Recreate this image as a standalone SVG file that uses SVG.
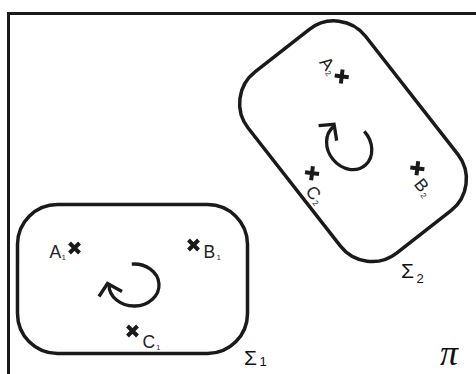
<svg xmlns="http://www.w3.org/2000/svg" width="476" height="374" viewBox="0 0 476 374">
  <defs>
    <style>
      .frame { fill: none; stroke: #1a1a1a; stroke-width: 3; }
      .region { fill: none; stroke: #1a1a1a; stroke-width: 3.5; }
      .cross { fill: none; stroke: #1a1a1a; stroke-width: 4; }
      .rot { fill: none; stroke: #1a1a1a; stroke-width: 3.3; stroke-linejoin: miter; }
      .lbl { font-family: "Liberation Sans", Arial, sans-serif; font-size: 17.5px; fill: #222; }
      .sub { font-family: "Liberation Sans", Arial, sans-serif; font-size: 8px; fill: #333; }
      .sig { font-family: "Liberation Sans", Arial, sans-serif; font-size: 21px; fill: #111; }
      .sigsub { font-family: "Liberation Sans", Arial, sans-serif; font-size: 13px; fill: #111; }
      .pi { font-family: "Liberation Serif", "Times New Roman", serif; font-style: italic; font-size: 36px; fill: #111; }
    </style>
  </defs>

  <g id="plane">
    <path class="frame" d="M8.5,374 V13.5 H476"/>
    <text class="pi" x="440" y="365">π</text>
  </g>

  <g id="sigma1">
    <rect class="region" x="17.5" y="204.5" width="230" height="149" rx="40" ry="40"/>
    <path class="cross" d="M69.5,243 L79.5,253 M69.5,253 L79.5,243"/>
    <text class="lbl" x="49.5" y="257.5">A</text><text class="sub" x="61.5" y="259.5">1</text>
    <path class="cross" d="M188.5,240 L198.5,250 M188.5,250 L198.5,240"/>
    <text class="lbl" x="203.5" y="258">B</text><text class="sub" x="216.5" y="259.5">1</text>
    <path class="cross" d="M127.5,326 L137.5,336 M127.5,336 L137.5,326"/>
    <text class="lbl" x="142.5" y="348">C</text><text class="sub" x="156" y="349.5">1</text>
    <path class="rot" d="M131.8,264.1 A25,21 0 1,1 109,285"/>
    <path class="rot" d="M99,296.5 L107.5,283.5 L122,291.5"/>
    <text class="sig" x="244" y="365">Σ</text><text class="sigsub" x="259.5" y="366">1</text>
  </g>

  <g id="sigma2">
    <g transform="translate(353 141.2) rotate(52) translate(-132.5 -279)">
      <rect class="region" x="17.5" y="204.5" width="230" height="149" rx="40" ry="40"/>
      <path class="cross" d="M69.5,243 L79.5,253 M69.5,253 L79.5,243"/>
      <text class="lbl" x="49.5" y="257.5">A</text><text class="sub" x="61.5" y="259.5">2</text>
      <path class="cross" d="M188.5,240 L198.5,250 M188.5,250 L198.5,240"/>
      <text class="lbl" x="203.5" y="258">B</text><text class="sub" x="216.5" y="259.5">2</text>
      <path class="cross" d="M127.5,326 L137.5,336 M127.5,336 L137.5,326"/>
      <text class="lbl" x="142.5" y="348">C</text><text class="sub" x="156" y="349.5">2</text>
      <path class="rot" d="M131.8,264.1 A25,21 0 1,1 109,285"/>
      <path class="rot" d="M99,296.5 L107.5,283.5 L122,291.5"/>
    </g>
    <text class="sig" x="401" y="278">Σ</text><text class="sigsub" x="416.5" y="283">2</text>
  </g>

  <g id="connectors"/>
</svg>
